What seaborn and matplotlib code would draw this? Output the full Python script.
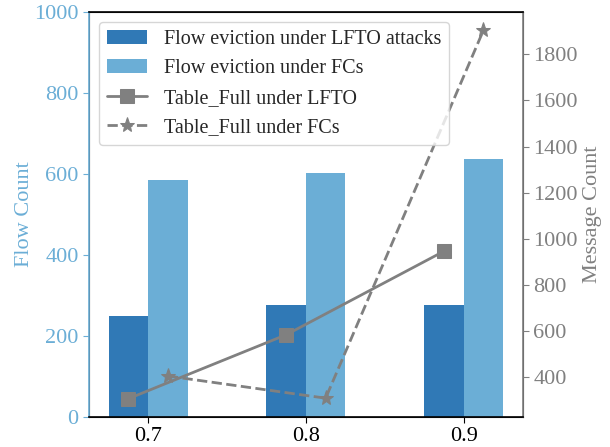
import numpy as np
import pandas as pd
import matplotlib.pyplot as plt
import seaborn as sns

# values
thresholds = ["0.7", "0.8", "0.9"]
evict_lfto = [250, 277, 277]
evict_fcs = [586, 603, 636]
full_lfto = [307, 584, 946]
full_fcs = [405, 309, 1903]

bar_labels = ["Flow eviction under LFTO attacks", "Flow eviction under FCs"]
line_labels = ["Table_Full under LFTO", "Table_Full under FCs"]

DARK = "#3079b6"
LIGHT = "#6baed6"
GRAY = "#808080"


def main():
    sns.set_style("white")
    plt.rcParams["font.family"] = ["Liberation Serif", "DejaVu Serif"]

    df = pd.DataFrame({
        "threshold": thresholds * 2,
        "count": evict_lfto + evict_fcs,
        "series": [bar_labels[0]] * 3 + [bar_labels[1]] * 3,
    })

    fig = plt.figure(figsize=(6.1, 4.47), dpi=100)
    ax = fig.add_axes([0.146, 0.067, 0.711, 0.906])

    sns.barplot(data=df, x="threshold", y="count", hue="series",
                palette=[DARK, LIGHT], width=0.5, saturation=1,
                linewidth=0, edgecolor="none", ax=ax)
    ax.set_ylim(0, 1000)
    ax.set_xlabel("")
    ax.set_ylabel("Flow Count", fontsize=16, color=LIGHT, labelpad=0)
    ax.tick_params(axis="y", colors=LIGHT, labelsize=16, length=4, left=True)
    ax.tick_params(axis="x", colors="black", labelsize=16, length=4, bottom=True)
    bar_h, bar_l = ax.get_legend_handles_labels()
    ax.get_legend().remove()

    # line positions sit on the bar centres
    pos = np.arange(len(thresholds))
    off = 0.125
    ax2 = ax.twinx()
    sns.lineplot(x=pos - off, y=full_lfto, marker="s", markersize=10,
                 color=GRAY, linewidth=2, markeredgecolor=GRAY,
                 label=line_labels[0], ax=ax2)
    sns.lineplot(x=pos + off, y=full_fcs, marker="*", markersize=11,
                 color=GRAY, linewidth=2, linestyle="--", markeredgecolor=GRAY,
                 label=line_labels[1], ax=ax2)
    ax2.set_ylabel("Message Count", fontsize=16, color=GRAY)
    ax2.tick_params(axis="y", colors=GRAY, labelsize=16, length=4, right=True)
    ax2.set_xlim(-0.375, 2.375)

    ax2.spines["left"].set_color(LIGHT)
    ax2.spines["right"].set_color(GRAY)
    ax2.spines["top"].set_color("black")
    ax2.spines["bottom"].set_color("black")
    for sp in ax2.spines.values():
        sp.set_linewidth(1.2)

    line_h, line_l = ax2.get_legend_handles_labels()
    ax2.legend(bar_h + line_h, bar_l + line_l, loc="upper left",
               fontsize=14.5, frameon=True, handlelength=2.0,
               borderaxespad=0.5, labelspacing=0.5)

    plt.savefig("out.png", dpi=100)


if __name__ == "__main__":
    main()
